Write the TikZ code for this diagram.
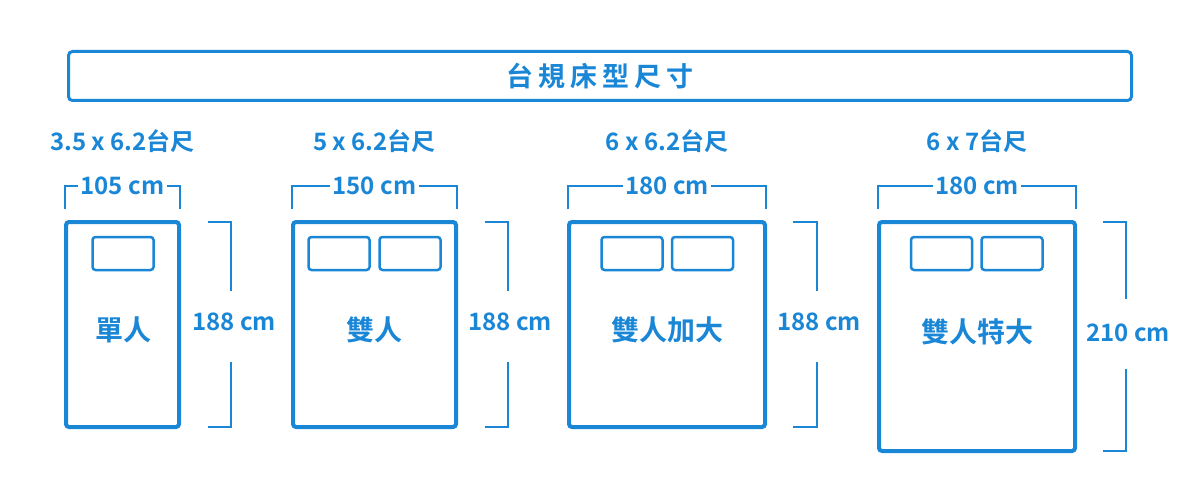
\documentclass[tikz,border=0pt]{standalone}
\usepackage{fontspec}
\usepackage{xcolor}
\newfontfamily\cjk{Noto Sans CJK TC}[BoldFont={Noto Sans CJK TC Bold}]
\newfontfamily\cjktitle{Noto Sans CJK TC}[BoldFont={Noto Sans CJK TC Bold},LetterSpace=18]
\definecolor{bedblue}{HTML}{1A86D6}

\begin{document}
\begin{tikzpicture}[x=1pt,y=-1pt,
    bed/.style={draw=bedblue, line width=4pt, rounded corners=3pt, outer sep=0pt, inner sep=0pt},
    pillow/.style={draw=bedblue, line width=2.5pt, rounded corners=3pt, outer sep=0pt, inner sep=0pt,
      minimum width=61pt, minimum height=33pt},
    dim/.style={draw=bedblue, line width=2pt},
    dimtext/.style={text=bedblue, font=\cjk\bfseries\fontsize{24}{24}\selectfont, inner sep=2pt},
    spectext/.style={text=bedblue, font=\cjk\bfseries\fontsize{24}{24}\selectfont},
    bedname/.style={text=bedblue, font=\cjk\bfseries\fontsize{28}{28}\selectfont}]
  \useasboundingbox (0,0) rectangle (1200,500);

  % Title
  \node[draw=bedblue, line width=3pt, rounded corners=4pt, minimum width=1063pt, minimum height=49pt,
    text=bedblue, font=\cjktitle\bfseries\fontsize{27}{27}\selectfont] (title) at (600,76) {台規床型尺寸};

  % Single bed
  \node[bed, minimum width=113pt, minimum height=205pt] (single) at (122.5,324.5) {};
  \node[pillow] (singlep) at (123,253.5) {};
  \node[bedname] (singlen) at (123,330) {單人};
  \node[spectext] (singles) at (122.5,141) {3.5 x 6.2台尺};
  \node[dimtext] (singlew) at (122.5,186) {105 cm};
  \draw[dim] ([xshift=-1pt,yshift=13pt]single.north west) |- (singlew.west);
  \draw[dim] (singlew.east) -| ([xshift=1pt,yshift=13pt]single.north east);
  \node[dimtext] (singleh) at ([xshift=55pt,yshift=-100pt]single.north east) {188 cm};
  \draw[dim] ([xshift=29pt]single.north east) -| ([xshift=52pt,yshift=-69pt]single.north east);
  \draw[dim] ([xshift=29pt]single.south east) -| ([xshift=52pt,yshift=65pt]single.south east);

  % Double bed
  \node[bed, minimum width=163pt, minimum height=205pt] (double) at (374.5,324.5) {};
  \node[pillow] (doublep1) at (339,253.5) {};
  \node[pillow] (doublep2) at (410,253.5) {};
  \node[bedname] (doublen) at (374.5,330) {雙人};
  \node[spectext] (doubles) at (374.5,141) {5 x 6.2台尺};
  \node[dimtext] (doublew) at (374.5,186) {150 cm};
  \draw[dim] ([xshift=-1pt,yshift=13pt]double.north west) |- (doublew.west);
  \draw[dim] (doublew.east) -| ([xshift=1pt,yshift=13pt]double.north east);
  \node[dimtext] (doubleh) at ([xshift=54pt,yshift=-100pt]double.north east) {188 cm};
  \draw[dim] ([xshift=29pt]double.north east) -| ([xshift=52pt,yshift=-69pt]double.north east);
  \draw[dim] ([xshift=29pt]double.south east) -| ([xshift=52pt,yshift=65pt]double.south east);

  % Queen bed
  \node[bed, minimum width=196pt, minimum height=205pt] (queen) at (667,324.5) {};
  \node[pillow] (queenp1) at (632,253.5) {};
  \node[pillow] (queenp2) at (702.5,253.5) {};
  \node[bedname] (queenn) at (667,330) {雙人加大};
  \node[spectext] (queens) at (667,141) {6 x 6.2台尺};
  \node[dimtext] (queenw) at (667,186) {180 cm};
  \draw[dim] ([xshift=-1pt,yshift=13pt]queen.north west) |- (queenw.west);
  \draw[dim] (queenw.east) -| ([xshift=1pt,yshift=13pt]queen.north east);
  \node[dimtext] (queenh) at ([xshift=54pt,yshift=-100pt]queen.north east) {188 cm};
  \draw[dim] ([xshift=28pt]queen.north east) -| ([xshift=52pt,yshift=-69pt]queen.north east);
  \draw[dim] ([xshift=28pt]queen.south east) -| ([xshift=52pt,yshift=65pt]queen.south east);

  % King bed
  \node[bed, minimum width=196pt, minimum height=229pt] (king) at (977,336.5) {};
  \node[pillow] (kingp1) at (941.5,253.5) {};
  \node[pillow] (kingp2) at (1012,253.5) {};
  \node[bedname] (kingn) at (977,332) {雙人特大};
  \node[spectext] (kings) at (977,141) {6 x 7台尺};
  \node[dimtext] (kingw) at (977,186) {180 cm};
  \draw[dim] ([xshift=-1pt,yshift=13pt]king.north west) |- (kingw.west);
  \draw[dim] (kingw.east) -| ([xshift=1pt,yshift=13pt]king.north east);
  \node[dimtext] (kingh) at ([xshift=53pt,yshift=-111pt]king.north east) {210 cm};
  \draw[dim] ([xshift=28pt]king.north east) -| ([xshift=51pt,yshift=-77pt]king.north east);
  \draw[dim] ([xshift=28pt]king.south east) -| ([xshift=51pt,yshift=82pt]king.south east);
\end{tikzpicture}
\end{document}
